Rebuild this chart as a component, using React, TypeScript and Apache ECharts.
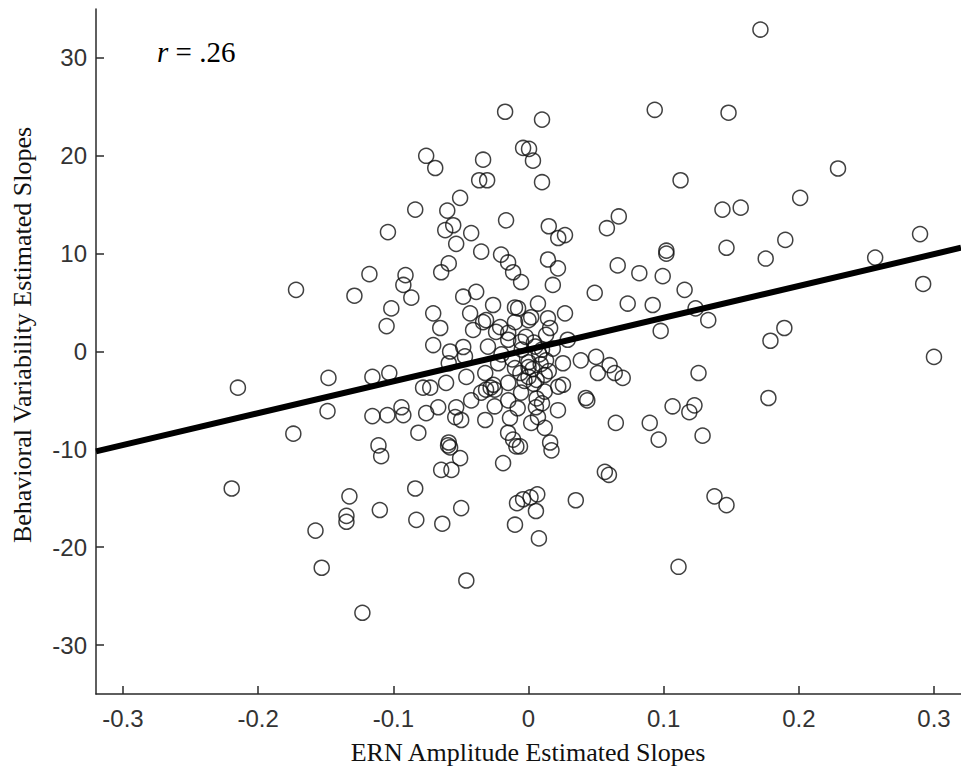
import React, { useEffect, useRef } from "react";
import * as echarts from "echarts";

const xTicks = [-0.3, -0.2, -0.1, 0, 0.1, 0.2, 0.3];
const yTicks = [-30, -20, -10, 0, 10, 20, 30];

const xTitle = "ERN Amplitude Estimated Slopes";
const yTitle = "Behavioral Variability Estimated Slopes";

// ERN slope (x) and behavioral slope (y) of every participant
const ernSlopes = [
  0.1716, -0.0173, 0.01, 0.0934, 0.148, -0.0757, -0.069, -0.0336, -0.0365, -0.0306,
  -0.004, 0.0004, 0.0033, 0.01, 0.1125, 0.229, -0.0506, -0.0838, -0.0601, 0.1435,
  0.157, 0.201, -0.0557, -0.0616, -0.0424, -0.0535, -0.035, -0.0166, 0.015, 0.022,
  0.027, 0.058, 0.0668, -0.0203, 0.0144, -0.104, 0.102, 0.102, 0.1465, 0.19,
  0.1755, 0.2565, 0.2897,
  -0.215, -0.172, -0.174, -0.2196, -0.148, -0.1487, -0.1288, -0.1177, -0.1155, -0.1155,
  -0.111, -0.109, -0.1015, -0.105, -0.103, -0.1044, -0.1325, -0.1347, -0.1347, -0.11,
  -0.1576, -0.153, -0.1229,
  -0.0838, -0.083, -0.0638, -0.0498, -0.046, -0.01, -0.0085, -0.004, 0.0015, 0.0065,
  0.0055, 0.0077, 0.035, 0.1376, 0.1465, 0.111, 0.0565, 0.0595,
  0.0993, 0.1155, 0.0919, 0.1236, 0.133, 0.0978, 0.292, 0.1893, 0.179, 0.3,
  0.1258, 0.1066, 0.1228, 0.119, 0.1775, 0.0897, 0.0963, 0.1288,
  0.066, 0.082, 0.049, 0.0734, 0.0218, 0.018, 0.007, 0.027, 0.0144, 0.0,
  0.013, 0.029, 0.0387, 0.05, 0.0513, 0.06, 0.0638, 0.0697, 0.0255, 0.013,
  0.0, 0.0255, 0.012, 0.0424, 0.0435, 0.0218, 0.0055, 0.007, 0.0646, 0.002,
  0.012, 0.016, 0.017, -0.0063,
  -0.0646, -0.059, -0.091, -0.0926, -0.0867, -0.0705, -0.0653, -0.0705, -0.058, -0.0483,
  -0.0387, -0.0432, -0.041, -0.0483, -0.0262, -0.0314, -0.024, -0.0151, -0.0114, -0.0055,
  -0.01, -0.015, -0.0055, -0.046, -0.061, -0.078, -0.0727, -0.0668, -0.0757, -0.0815,
  -0.094, -0.0926, -0.0535, -0.0542, -0.0498, -0.0424, -0.032, -0.059, -0.058, -0.0506,
  -0.0646, -0.057, -0.0188, -0.0151, -0.0114, -0.009, -0.0137, -0.0314, -0.026, -0.015,
  -0.059, -0.047, -0.0595,
  -0.0077, -0.0336, -0.021, -0.01, 0.002, 0.016, -0.002, -0.015, -0.03, 0.0,
  -0.01, -0.0225, -0.032, 0.0, 0.012, -0.015, 0.022, -0.025, -0.0055, 0.005,
  0.008, -0.005, 0.018, -0.02, 0.004, -0.008, 0.01, -0.025,
  0.003, 0.006, -0.003, 0.009, -0.006, 0.004, 0.01, -0.012, 0.015, 0.006,
  -0.028, -0.035,
];

const behSlopes = [
  32.9, 24.5, 23.7, 24.7, 24.4, 20.0, 18.75, 19.6, 17.5, 17.5,
  20.8, 20.7, 19.5, 17.3, 17.5, 18.7, 15.7, 14.5, 14.4, 14.5,
  14.7, 15.7, 12.9, 12.4, 12.1, 11.0, 10.2, 13.4, 12.8, 11.6,
  11.9, 12.6, 13.8, 9.9, 9.4, 12.2, 10.0, 10.3, 10.6, 11.4,
  9.5, 9.6, 12.0,
  -3.7, 6.3, -8.4, -14.0, -2.7, -6.1, 5.7, 7.9, -2.6, -6.6,
  -9.6, -10.7, 4.4, 2.6, -2.2, -6.5, -14.8, -16.8, -17.4, -16.2,
  -18.3, -22.1, -26.7,
  -14.0, -17.2, -17.6, -16.0, -23.4, -17.7, -15.5, -15.1, -14.9, -14.6,
  -16.3, -19.1, -15.2, -14.8, -15.7, -22.0, -12.3, -12.6,
  7.7, 6.3, 4.75, 4.4, 3.2, 2.1, 6.9, 2.4, 1.1, -0.55,
  -2.2, -5.6, -5.5, -6.2, -4.75, -7.3, -9.0, -8.6,
  8.8, 8.0, 6.0, 4.9, 8.5, 6.8, 4.9, 3.9, 3.4, 3.2,
  1.7, 1.2, -0.9, -0.55, -2.2, -1.4, -2.2, -2.7, -1.2, -0.9,
  -1.6, -3.4, -4.1, -4.75, -5.0, -6.0, -5.7, -6.7, -7.3, -7.3,
  -7.8, -9.3, -10.1, -9.7,
  8.1, 9.0, 7.8, 6.8, 5.5, 3.9, 2.4, 0.66, 0.0, 5.6,
  6.1, 3.9, 2.2, 0.46, 4.75, 3.2, 2.0, 9.1, 8.1, 7.1,
  4.5, 1.9, 1.0, -2.6, -3.2, -3.7, -3.7, -5.7, -6.3, -8.3,
  -5.7, -6.5, -5.7, -6.7, -7.0, -5.0, -7.0, -9.3, -9.8, -10.9,
  -12.1, -12.1, -11.4, -8.3, -9.0, -9.7, -6.8, -3.9, -3.4, -5.0,
  -1.2, -0.5, -9.6,
  4.4, 3.0, 2.5, 3.0, 3.5, 2.4, 1.5, 1.2, 0.5, -1.1,
  -1.7, -1.2, -2.2, -2.6, -2.4, -3.2, -3.6, -3.9, -4.2, 0.5,
  -0.3, 0.2, 0.3, -0.3, -3.3, -5.8, -5.3, -5.6,
  -1.8, -2.9, -3.0, -1.3, -2.2, 0.9, 0.2, -0.8, -2.0, -4.8,
  -3.7, -4.2,
];

// least-squares fit line end points
const fitX = [-0.32, 0.32];
const fitY = [-10.2, 10.6];

export default function App() {
  const ref = useRef<HTMLDivElement>(null);

  useEffect(() => {
    document.body.style.margin = "0";
    if (!ref.current) return;
    const chart = echarts.init(ref.current, undefined, { renderer: "svg" });
    const n = Math.min(ernSlopes.length, behSlopes.length);
    const points = [];
    for (let i = 0; i < n; i++) points.push([ernSlopes[i], behSlopes[i]]);
    const fit = fitX.map((x, i) => [x, fitY[i]]);

    const axisColor = "#2a2a2a";
    const labelFont = {
      fontFamily: "Liberation Sans",
      fontSize: 24,
      color: "#333333",
    };

    chart.setOption({
      animation: false,
      backgroundColor: "#ffffff",
      grid: { left: 96, top: 9, width: 867, height: 685, containLabel: false },
      xAxis: {
        type: "value",
        min: -0.32,
        max: 0.32,
        axisLine: { onZero: false, lineStyle: { color: axisColor, width: 1.5 } },
        axisTick: {
          inside: true,
          length: 8,
          customValues: xTicks,
          lineStyle: { color: axisColor, width: 1.5 },
        },
        axisLabel: {
          ...labelFont,
          margin: 12,
          customValues: xTicks,
          formatter: (v: number) => String(Math.round(v * 10) / 10),
        },
        splitLine: { show: false },
      },
      yAxis: {
        type: "value",
        min: -35,
        max: 35,
        axisLine: { show: true, onZero: false, lineStyle: { color: axisColor, width: 1.5 } },
        axisTick: {
          show: true,
          inside: true,
          length: 8,
          customValues: yTicks,
          lineStyle: { color: axisColor, width: 1.5 },
        },
        axisLabel: {
          ...labelFont,
          margin: 9,
          customValues: yTicks,
          formatter: (v: number) => String(Math.round(v)),
        },
        splitLine: { show: false },
      },
      series: [
        {
          type: "scatter",
          data: points,
          symbol: "circle",
          symbolSize: 15,
          itemStyle: { color: "rgba(0,0,0,0)", borderColor: "#111", borderWidth: 1.5 },
          z: 2,
        },
        {
          type: "line",
          data: fit,
          symbol: "none",
          lineStyle: { color: "#000", width: 6 },
          z: 3,
        },
      ],
      graphic: [
        {
          type: "text",
          x: 528,
          y: 752,
          style: {
            text: xTitle,
            font: '26px "Liberation Serif"',
            fill: "#111",
            textAlign: "center",
            textVerticalAlign: "middle",
          },
        },
        {
          type: "text",
          x: 22,
          y: 335,
          rotation: Math.PI / 2,
          style: {
            text: yTitle,
            font: '26px "Liberation Serif"',
            fill: "#111",
            textAlign: "center",
            textVerticalAlign: "middle",
          },
        },
        {
          type: "text",
          x: 157,
          y: 52,
          style: {
            text: "{i|r} = .26",
            font: '29px "Liberation Serif"',
            fill: "#000",
            textAlign: "left",
            textVerticalAlign: "middle",
            rich: {
              i: { fontStyle: "italic", fontFamily: "Liberation Serif", fontSize: 29, fill: "#000" },
            },
          },
        },
      ],
    });
    return () => chart.dispose();
  }, []);

  return <div ref={ref} style={{ width: 961, height: 774 }} />;
}
